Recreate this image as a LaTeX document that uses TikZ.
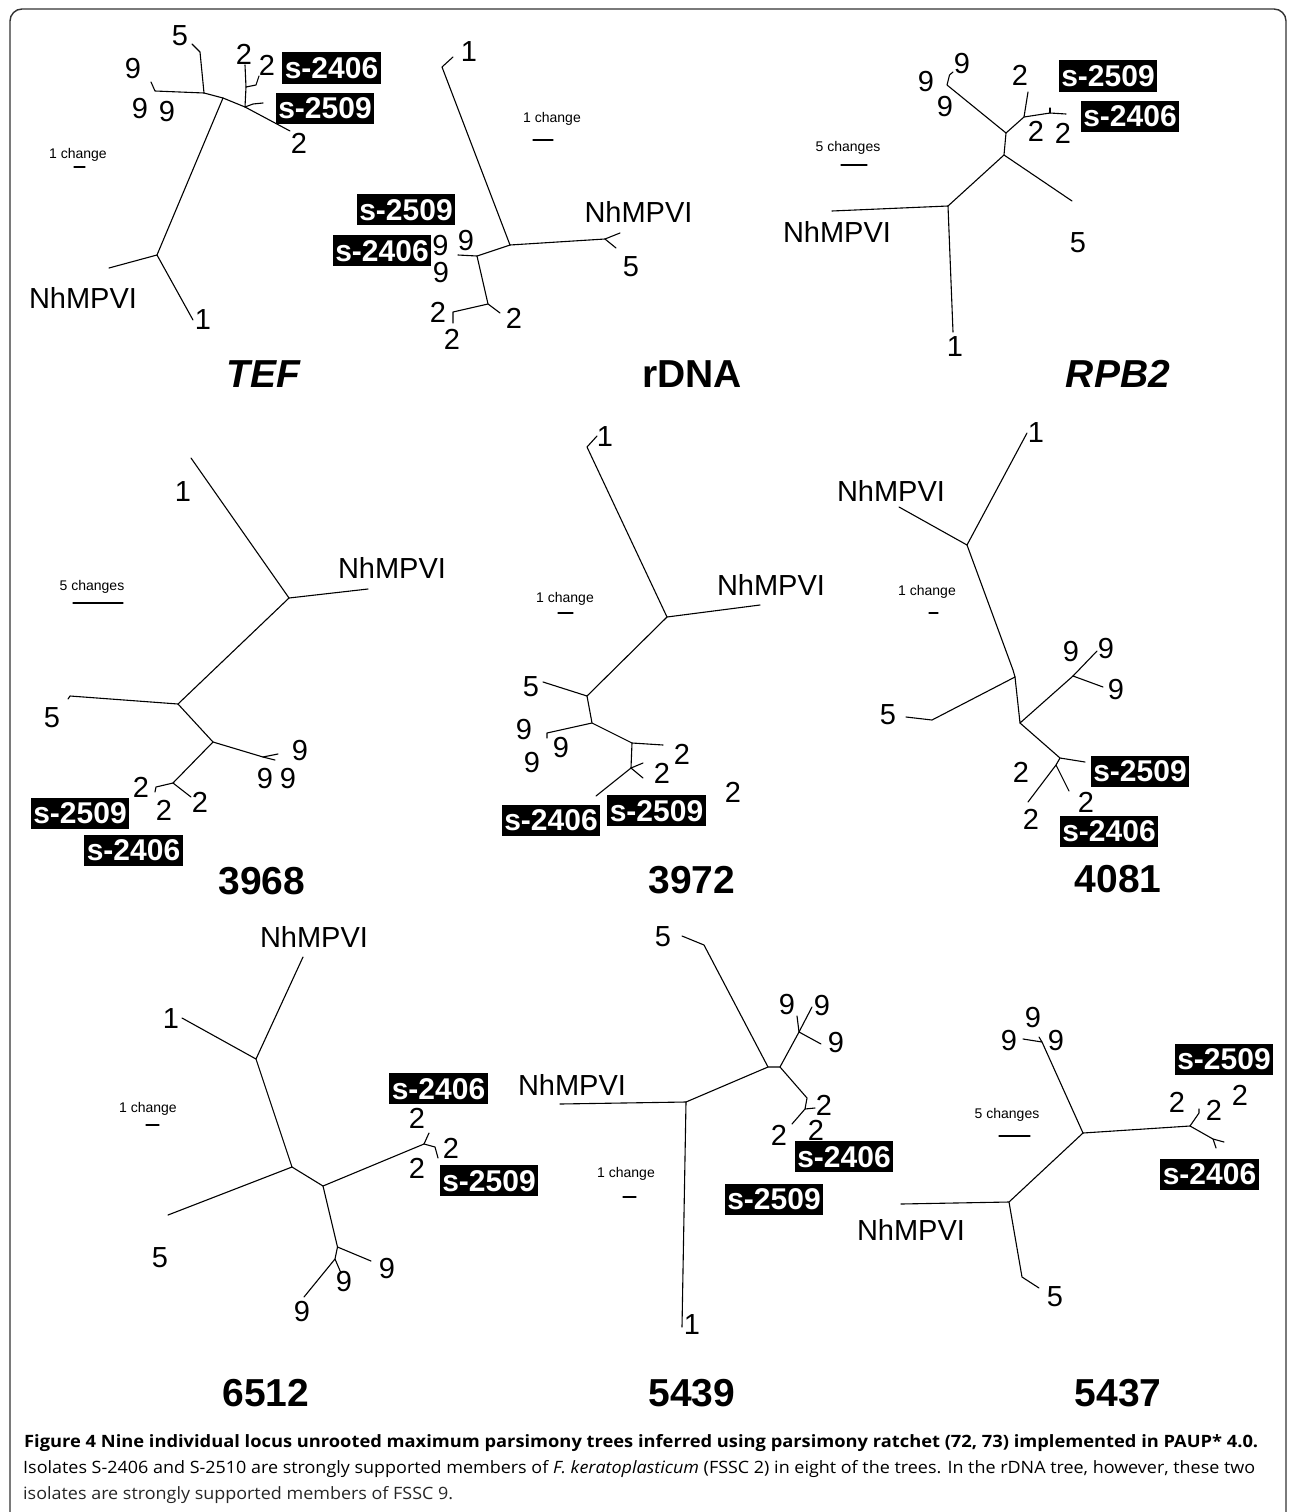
\documentclass[tikz,border=0pt]{standalone}
\usepackage{fontspec}
\usepackage{graphicx}
\setmainfont{Liberation Sans}
\newfontfamily\capfont{Open Sans}
\tikzset{
  br/.style={line width=1.1pt, line join=round, line cap=round},
  lab/.style={inner sep=0pt, font=\fontsize{29}{29}\selectfont},
  iso/.style={fill=black, text=white, inner xsep=2.5pt, inner ysep=4pt, text height=22pt, text depth=1pt, font=\bfseries\fontsize{30}{30}\selectfont},
  scl/.style={inner sep=0pt, font=\fontsize{14}{14}\selectfont},
  ttl/.style={inner sep=0pt, font=\bfseries\fontsize{39}{39}\selectfont},
  ttli/.style={inner sep=0pt, font=\bfseries\itshape\fontsize{39}{39}\selectfont},
  capl/.style={anchor=base west, inner sep=0pt}
}
\newsavebox\capBoxB
\newlength\capBoxBw
\begin{document}
\sbox\capBoxB{\capfont\fontsize{17}{17}\selectfont Isolates S-2406 and S-2510 are strongly supported members of \textit{F. keratoplasticum} (FSSC 2) in eight of the trees. In the rDNA tree, however, these two}%
\setlength\capBoxBw{\wd\capBoxB}%
\pgfmathsetmacro\capsx{1232pt/\capBoxBw}%
\begin{tikzpicture}[x=1pt,y=-1pt]
\path[use as bounding box, clip] (0,0) rectangle (1292,1512);
\fill[white] (0,0) rectangle (1292,1512);
\draw[line width=1.4pt, black!80, rounded corners=12pt] (10,9) rectangle (1286,1560);

%% ---------------- TEF ----------------
\coordinate (tA) at (157,255);
\coordinate (tB) at (223,98);
\coordinate (tC) at (204,93);
\coordinate (tD) at (245,107);
\coordinate (tE) at (246,87);
\coordinate (tNh) at (109,268);
\coordinate (t1) at (193,320);
\coordinate (t5) at (200,52);
\coordinate (t5h) at (192,44);
\coordinate (t9) at (155,91);
\coordinate (t9h) at (151,82);
\coordinate (t2x) at (290,131);
\coordinate (t2y) at (245,65);
\coordinate (t2zc) at (256,85);
\coordinate (t2z) at (259,76);
\coordinate (tSc) at (253,104);
\coordinate (tS) at (263,103);
\draw[br] (tNh) -- (tA) -- (t1);
\draw[br] (tA) -- (tB) -- (tC) -- (t5) -- (t5h);
\draw[br] (tC) -- (t9) -- (t9h);
\draw[br] (tB) -- (tD) -- (t2x);
\draw[br] (tD) -- (tE) -- (t2y);
\draw[br] (tE) -- (t2zc) -- (t2z);
\draw[br] (tD) -- (tSc) -- (tS);
\node[lab] (lt5) at (180,36) {5};
\node[lab] (lt9a) at (133,69) {9};
\node[lab] (lt9b) at (140,109) {9};
\node[lab] (lt9c) at (167,112) {9};
\node[lab] (lt2a) at (244,54) {2};
\node[lab] (lt2b) at (267,65) {2};
\node[lab] (lt2c) at (299,143) {2};
\node[lab] (ltNh) at (83,298) {NhMPVI};
\node[lab] (lt1) at (203,320) {1};
\node[iso] (ts2406) at (331.5,68) {s-2406};
\node[iso] (ts2509) at (325,108) {s-2509};
\node[scl] (tsc) at (78,155) {1 change};
\coordinate (tba) at (74,167); \coordinate (tbb) at (85,167);
\draw[br] (tba) -- (tbb);
\node[ttli] (tT) at (263,374) {TEF};

%% ---------------- rDNA ----------------
\coordinate (r1t) at (453,57);
\coordinate (r1c) at (442,67);
\coordinate (rA) at (510,245);
\coordinate (rN) at (605,239);
\coordinate (rNa) at (620,233);
\coordinate (rNb) at (616,248);
\coordinate (rB) at (477,256);
\coordinate (r9) at (458,255);
\coordinate (rC) at (488,304);
\coordinate (r2a) at (500,313);
\coordinate (r2bc) at (453,312);
\coordinate (r2b) at (453,323);
\draw[br] (r1t) -- (r1c) -- (rA) -- (rN) -- (rNa);
\draw[br] (rN) -- (rNb);
\draw[br] (rA) -- (rB) -- (r9);
\draw[br] (rB) -- (rC) -- (r2a);
\draw[br] (rC) -- (r2bc) -- (r2b);
\node[lab] (lr1) at (469,52) {1};
\node[lab] (lrNh) at (638.5,212) {NhMPVI};
\node[lab] (lr5) at (631,267) {5};
\node[lab] (lr9a) at (466,241) {9};
\node[lab] (lr9b) at (440.5,246) {9};
\node[lab] (lr9c) at (441,273) {9};
\node[lab] (lr2a) at (438,312) {2};
\node[lab] (lr2b) at (452,339) {2};
\node[lab] (lr2c) at (514,318) {2};
\node[iso] (rs2509) at (406,209.5) {s-2509};
\node[iso] (rs2406) at (382,250.5) {s-2406};
\node[scl] (rsc) at (552,118.5) {1 change};
\coordinate (rba) at (533,140); \coordinate (rbb) at (553,140);
\draw[br] (rba) -- (rbb);
\node[ttl] (rT) at (692,374) {rDNA};

%% ---------------- RPB2 ----------------
\coordinate (pA) at (948,206);
\coordinate (pNh) at (832,211);
\coordinate (p1) at (953,332);
\coordinate (pB) at (1004,155);
\coordinate (p5) at (1072,201);
\coordinate (pC) at (1006,133);
\coordinate (p9) at (947,85);
\coordinate (p9h) at (949.5,75);
\coordinate (p9t) at (953,72);
\coordinate (pD) at (1024,117);
\coordinate (p2a) at (1028,92);
\coordinate (pE) at (1050,113);
\coordinate (pEt) at (1050,108);
\coordinate (p2b) at (1066,114);
\draw[br] (pNh) -- (pA) -- (p1);
\draw[br] (pA) -- (pB) -- (p5);
\draw[br] (pB) -- (pC) -- (p9) -- (p9h) -- (p9t);
\draw[br] (pC) -- (pD) -- (p2a);
\draw[br] (pD) -- (pE) -- (p2b);
\draw[br] (pE) -- (pEt);
\node[lab] (lp9a) at (926,82) {9};
\node[lab] (lp9b) at (962,64) {9};
\node[lab] (lp9c) at (945,107) {9};
\node[lab] (lp2a) at (1020,75) {2};
\node[lab] (lp2b) at (1036,131) {2};
\node[lab] (lp2c) at (1063,133) {2};
\node[lab] (lp5) at (1078,243) {5};
\node[lab] (lp1) at (955,347) {1};
\node[lab] (lpNh) at (837,232) {NhMPVI};
\node[iso] (ps2509) at (1108,76) {s-2509};
\node[iso] (ps2406) at (1130,116) {s-2406};
\node[scl] (psc) at (848,148) {5 changes};
\coordinate (pba) at (841,165); \coordinate (pbb) at (867,165);
\draw[br] (pba) -- (pbb);
\node[ttli] (pT) at (1118,374) {RPB2};

%% ---------------- 3968 ----------------
\coordinate (a1) at (191,458);
\coordinate (aA) at (289,598);
\coordinate (aNh) at (368,589);
\coordinate (aB) at (178,704);
\coordinate (a5) at (70,696);
\coordinate (a5h) at (68,699);
\coordinate (aC) at (213,742);
\coordinate (a9j) at (263,757);
\coordinate (a9) at (275,760);
\coordinate (a9e) at (278,754);
\coordinate (aD) at (173,783);
\coordinate (a2l) at (156,787);
\coordinate (a2lh) at (155,792);
\coordinate (a2r) at (191,797);
\draw[br] (a1) -- (aA) -- (aNh);
\draw[br] (aA) -- (aB) -- (a5) -- (a5h);
\draw[br] (aB) -- (aC) -- (a9j) -- (a9);
\draw[br] (a9j) -- (a9e);
\draw[br] (aC) -- (aD) -- (a2l) -- (a2lh);
\draw[br] (aD) -- (a2r);
\node[lab] (la1) at (183,492) {1};
\node[lab] (laNh) at (392,568) {NhMPVI};
\node[lab] (la5) at (52,718) {5};
\node[lab] (la9a) at (300,751) {9};
\node[lab] (la9b) at (265,779) {9};
\node[lab] (la9c) at (288,779) {9};
\node[lab] (la2a) at (141,787) {2};
\node[lab] (la2b) at (164,810) {2};
\node[lab] (la2c) at (200,802) {2};
\node[iso] (as2509) at (80,813) {s-2509};
\node[iso] (as2406) at (133.5,850) {s-2406};
\node[scl] (asc) at (92,587) {5 changes};
\coordinate (aba) at (73,603); \coordinate (abb) at (123,603);
\draw[br] (aba) -- (abb);
\node[ttl] (aT) at (262,881) {3968};

%% ---------------- 3972 ----------------
\coordinate (b1t) at (597,436);
\coordinate (b1c) at (587,447);
\coordinate (bA) at (667,617);
\coordinate (bNh) at (760,605);
\coordinate (bB) at (587,696);
\coordinate (b5) at (543,682);
\coordinate (bC) at (592,723);
\coordinate (b9) at (547,733);
\coordinate (b9h) at (547,738);
\coordinate (bD) at (632,743);
\coordinate (b2r) at (663,745);
\coordinate (bE) at (631,768);
\coordinate (bE1) at (643,763);
\coordinate (bE2) at (643,778);
\coordinate (bL) at (596,796);
\draw[br] (b1t) -- (b1c) -- (bA) -- (bNh);
\draw[br] (bA) -- (bB) -- (b5);
\draw[br] (bB) -- (bC) -- (b9) -- (b9h);
\draw[br] (bC) -- (bD) -- (b2r);
\draw[br] (bD) -- (bE) -- (bE1);
\draw[br] (bE) -- (bE2);
\draw[br] (bE) -- (bL);
\node[lab] (lb1) at (605,437) {1};
\node[lab] (lbNh) at (771,585) {NhMPVI};
\node[lab] (lb5) at (531,687) {5};
\node[lab] (lb9a) at (524,730) {9};
\node[lab] (lb9b) at (561,748) {9};
\node[lab] (lb9c) at (532,763) {9};
\node[lab] (lb2a) at (682,754) {2};
\node[lab] (lb2b) at (662,773) {2};
\node[lab] (lb2c) at (733,792) {2};
\node[iso] (bs2406) at (551,820) {s-2406};
\node[iso] (bs2509) at (656.5,810.5) {s-2509};
\node[scl] (bsc) at (565,599) {1 change};
\coordinate (bba) at (558,613); \coordinate (bbb) at (573,613);
\draw[br] (bba) -- (bbb);
\node[ttl] (bT) at (692,880) {3972};

%% ---------------- 4081 ----------------
\coordinate (c1) at (1027,433);
\coordinate (cA) at (967,545);
\coordinate (cNh) at (899,507);
\coordinate (cBm) at (1013,670);
\coordinate (cB) at (1015,677);
\coordinate (c5c) at (932,720);
\coordinate (c5t) at (906,717);
\coordinate (cC) at (1020,723);
\coordinate (cD) at (1073,676);
\coordinate (c9a) at (1097,651);
\coordinate (c9b) at (1103,687);
\coordinate (cE) at (1060,758);
\coordinate (cS) at (1085,762);
\coordinate (cF) at (1056,765);
\coordinate (c2a) at (1028,802);
\coordinate (c2b) at (1069,791);
\draw[br] (c1) -- (cA) -- (cNh);
\draw[br] (cA) -- (cBm) -- (cB) -- (c5c) -- (c5t);
\draw[br] (cB) -- (cC) -- (cD) -- (c9a);
\draw[br] (cD) -- (c9b);
\draw[br] (cC) -- (cE) -- (cS);
\draw[br] (cE) -- (cF) -- (c2a);
\draw[br] (cF) -- (c2b);
\node[lab] (lc1) at (1036,433) {1};
\node[lab] (lcNh) at (891,491) {NhMPVI};
\node[lab] (lc5) at (888,715) {5};
\node[lab] (lc9a) at (1071,652) {9};
\node[lab] (lc9b) at (1106,649) {9};
\node[lab] (lc9c) at (1116,690) {9};
\node[lab] (lc2a) at (1021,772) {2};
\node[lab] (lc2b) at (1031,819) {2};
\node[lab] (lc2c) at (1086,802) {2};
\node[iso] (cs2509) at (1140,771) {s-2509};
\node[iso] (cs2406) at (1109,831) {s-2406};
\node[scl] (csc) at (927,592) {1 change};
\coordinate (cba) at (929,613); \coordinate (cbb) at (938,613);
\draw[br] (cba) -- (cbb);
\node[ttl] (cT) at (1118,879) {4081};

%% ---------------- 6512 ----------------
\coordinate (dNh) at (303,957);
\coordinate (dA) at (256,1059);
\coordinate (d1) at (182,1018);
\coordinate (dB) at (292,1167);
\coordinate (d5) at (168,1215);
\coordinate (dC) at (323,1186);
\coordinate (dD) at (424,1144);
\coordinate (d2u) at (429,1133);
\coordinate (d2r) at (435,1147);
\coordinate (d2rt) at (438,1158);
\coordinate (dE) at (337.5,1247);
\coordinate (d9r) at (371,1261);
\coordinate (dF) at (335,1259);
\coordinate (d9l) at (304,1297);
\coordinate (d9m) at (341,1273);
\draw[br] (dNh) -- (dA) -- (d1);
\draw[br] (dA) -- (dB) -- (d5);
\draw[br] (dB) -- (dC) -- (dD) -- (d2u);
\draw[br] (dD) -- (d2r) -- (d2rt);
\draw[br] (dC) -- (dE) -- (d9r);
\draw[br] (dE) -- (dF) -- (d9l);
\draw[br] (dF) -- (d9m);
\node[lab] (ldNh) at (314,937) {NhMPVI};
\node[lab] (ld1) at (171,1019) {1};
\node[lab] (ld5) at (160,1258) {5};
\node[lab] (ld2a) at (417,1118) {2};
\node[lab] (ld2b) at (451,1148) {2};
\node[lab] (ld2c) at (417,1168) {2};
\node[lab] (ld9a) at (387,1269) {9};
\node[lab] (ld9b) at (344,1282) {9};
\node[lab] (ld9c) at (302,1311) {9};
\node[iso] (ds2406) at (438.5,1088.5) {s-2406};
\node[iso] (ds2509) at (489,1180.5) {s-2509};
\node[scl] (dsc) at (148,1109) {1 change};
\coordinate (dba) at (146,1125); \coordinate (dbb) at (159,1125);
\draw[br] (dba) -- (dbb);
\node[ttl] (dT) at (266,1393) {6512};

%% ---------------- 5439 ----------------
\coordinate (e5t) at (682,936);
\coordinate (e5c) at (704,945);
\coordinate (eA) at (768,1067);
\coordinate (eB) at (780,1067);
\coordinate (eC) at (799,1032);
\coordinate (e9a) at (812,1007);
\coordinate (e9b) at (821,1044);
\coordinate (e9c) at (797,1016);
\coordinate (eD) at (807,1098);
\coordinate (eE) at (805,1109);
\coordinate (e2r) at (815,1108);
\coordinate (e2l) at (792,1124);
\coordinate (eF) at (686,1102);
\coordinate (eNh) at (560,1104);
\coordinate (e1) at (682,1327);
\draw[br] (e5t) -- (e5c) -- (eA) -- (eB) -- (eC) -- (e9a);
\draw[br] (eC) -- (e9b);
\draw[br] (eC) -- (e9c);
\draw[br] (eB) -- (eD) -- (eE) -- (e2r);
\draw[br] (eE) -- (e2l);
\draw[br] (eA) -- (eF) -- (eNh);
\draw[br] (eF) -- (e1);
\node[lab] (le5) at (663,937) {5};
\node[lab] (le9a) at (787,1005) {9};
\node[lab] (le9b) at (822,1006) {9};
\node[lab] (le9c) at (836,1043) {9};
\node[lab] (le2a) at (824,1105) {2};
\node[lab] (le2b) at (779,1135) {2};
\node[lab] (le2c) at (816,1130) {2};
\node[lab] (leNh) at (572,1085) {NhMPVI};
\node[lab] (le1) at (692,1325) {1};
\node[iso] (es2406) at (844,1156.5) {s-2406};
\node[iso] (es2509) at (774,1199) {s-2509};
\node[scl] (esc) at (626,1174) {1 change};
\coordinate (eba) at (623,1197); \coordinate (ebb) at (636,1197);
\draw[br] (eba) -- (ebb);
\node[ttl] (eT) at (692,1393) {5439};

%% ---------------- 5437 ----------------
\coordinate (fA) at (1083,1133);
\coordinate (f9) at (1042,1042);
\coordinate (f9l) at (1023,1039);
\coordinate (f9u) at (1039,1037);
\coordinate (fB) at (1190,1126);
\coordinate (f2uc) at (1199,1113);
\coordinate (f2u) at (1199,1109);
\coordinate (fG) at (1213,1139);
\coordinate (fG1) at (1224,1142);
\coordinate (fG2) at (1216,1148);
\coordinate (fC) at (1009,1202);
\coordinate (fNh) at (901,1204);
\coordinate (f5c) at (1022,1277);
\coordinate (f5t) at (1039,1288);
\draw[br] (fA) -- (f9) -- (f9l);
\draw[br] (f9) -- (f9u);
\draw[br] (fA) -- (fB) -- (f2uc) -- (f2u);
\draw[br] (fB) -- (fG) -- (fG1);
\draw[br] (fG) -- (fG2);
\draw[br] (fA) -- (fC) -- (fNh);
\draw[br] (fC) -- (f5c) -- (f5t);
\node[lab] (lf9a) at (1033,1018) {9};
\node[lab] (lf9b) at (1009,1041) {9};
\node[lab] (lf9c) at (1056,1041) {9};
\node[lab] (lf2a) at (1177,1102) {2};
\node[lab] (lf2b) at (1214,1110) {2};
\node[lab] (lf2c) at (1240,1095) {2};
\node[lab] (lfNh) at (911,1230) {NhMPVI};
\node[lab] (lf5) at (1055,1297) {5};
\node[iso] (fs2509) at (1224,1059) {s-2509};
\node[iso] (fs2406) at (1209.5,1174) {s-2406};
\node[scl] (fsc) at (1007,1115) {5 changes};
\coordinate (fba) at (999,1136); \coordinate (fbb) at (1030,1136);
\draw[br] (fba) -- (fbb);
\node[ttl] (fT) at (1118,1393) {5437};

%% ---------------- caption ----------------
\node[capl] (cap1) at (24,1447) {\resizebox{1234pt}{\height}{\capfont\bfseries\fontsize{17}{17}\selectfont Figure 4 Nine individual locus unrooted maximum parsimony trees inferred using parsimony ratchet (72, 73) implemented in PAUP* 4.0.}};
\node[capl, text=black!85] (cap2) at (23,1473) {\scalebox{\capsx}[1]{\usebox\capBoxB}};
\node[capl, text=black!85] (cap3) at (23,1499) {\scalebox{\capsx}[1]{\capfont\fontsize{17}{17}\selectfont isolates are strongly supported members of FSSC 9.}};
\end{tikzpicture}
\end{document}
